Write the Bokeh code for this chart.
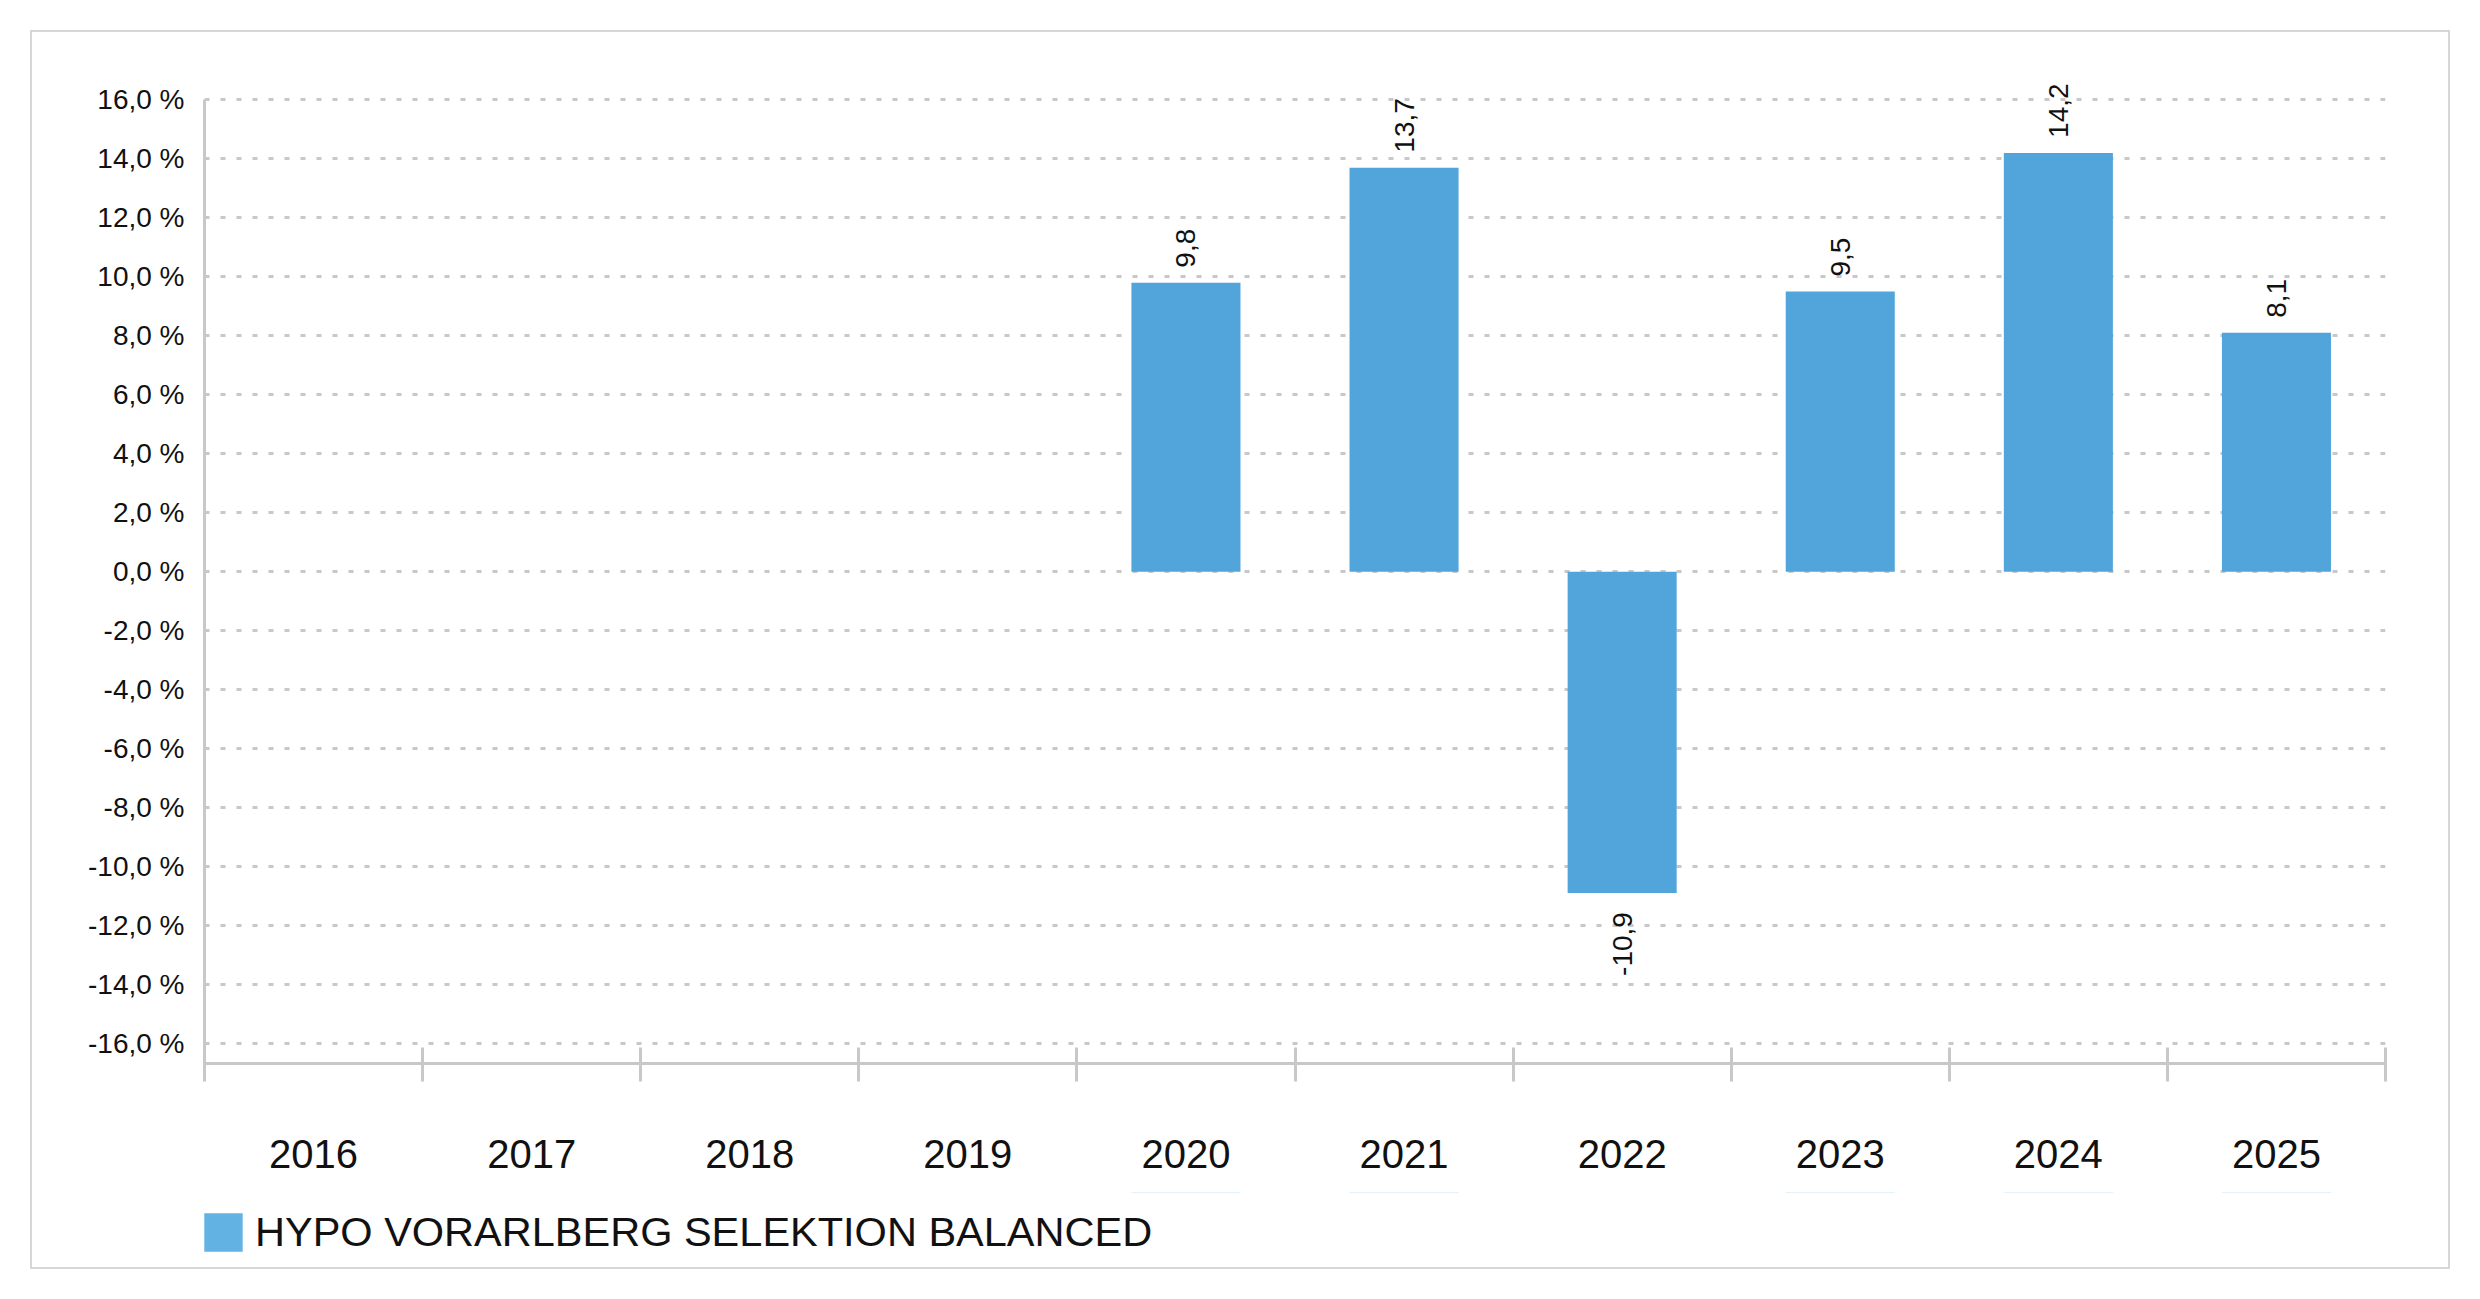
import math
from bokeh.plotting import figure
from bokeh.layouts import column
from bokeh.models import (Range1d, LinearAxis, FixedTicker, ColumnDataSource, Legend, LegendItem,
                          BoxAnnotation)
from bokeh.core.properties import value
from bokeh.embed import file_html
from bokeh.resources import INLINE

years = ["2016", "2017", "2018", "2019", "2020", "2021", "2022", "2023", "2024", "2025"]
returns = [None, None, None, None, 9.8, 13.7, -10.9, 9.5, 14.2, 8.1]
series_name = "HYPO VORARLBERG SELEKTION BALANCED"
y_ticks = list(range(-16, 17, 2))

FONT = "Liberation Sans"
BAR = "#52A5DA"
LEG = "#63B2E4"
GRID = "#C8C8C8"

# category slot i occupies [i, i+1] on the numeric x scale; its centre is i + 0.5
edges = list(range(len(years) + 1))
centres = [i + 0.5 for i in range(len(years))]
bx = [c for c, v in zip(centres, returns) if v is not None]
bv = [v for v in returns if v is not None]
fmt = lambda v: f"{v:.1f}".replace(".", ",")

src = ColumnDataSource(dict(x=bx, top=bv))
pos = ColumnDataSource(dict(x=[x for x, v in zip(bx, bv) if v >= 0],
                            y=[v for v in bv if v >= 0],
                            t=[fmt(v) for v in bv if v >= 0]))
neg = ColumnDataSource(dict(x=[x for x, v in zip(bx, bv) if v < 0],
                            y=[v for v in bv if v < 0],
                            t=[fmt(v) for v in bv if v < 0]))

W = 2416
Y_LO, Y_HI = -16.68, 17.3
p = figure(x_range=Range1d(0, len(years)), y_range=Range1d(Y_LO, Y_HI),
           width=W, height=1160, output_backend="svg", toolbar_location=None,
           x_axis_location=None, min_border_left=172, min_border_right=63,
           min_border_top=29, min_border_bottom=129)
p.outline_line_color = None
p.background_fill_color = "white"
p.border_fill_color = "white"

# y axis
ya = p.yaxis[0]
ya.ticker = FixedTicker(ticks=y_ticks)
ya.bounds = (Y_LO, y_ticks[-1])
ya.major_label_overrides = {t: fmt(t) + " %" for t in y_ticks}
ya.major_label_text_font = FONT
ya.major_label_text_font_size = "28px"
ya.major_label_text_color = "#111111"
ya.major_label_standoff = 14
ya.major_tick_line_color = None
ya.minor_tick_line_color = None
ya.axis_line_color = GRID
ya.axis_line_width = 3

p.ygrid.ticker = FixedTicker(ticks=y_ticks)
p.ygrid.grid_line_color = GRID
p.ygrid.grid_line_width = 3
p.ygrid.grid_line_dash = "5 11"
p.xgrid.visible = False

# x axis: boundary ticks, then a label-only axis with the years at slot centres
ea = LinearAxis(ticker=FixedTicker(ticks=edges),
                major_label_overrides={e: "" for e in edges}, major_label_standoff=0,
                major_tick_in=16, major_tick_out=18, major_tick_line_color=GRID,
                major_tick_line_width=3, minor_tick_line_color=None,
                axis_line_color=GRID, axis_line_width=3)
p.add_layout(ea, "below")
ca = LinearAxis(ticker=FixedTicker(ticks=centres),
                major_label_overrides={c: y for c, y in zip(centres, years)},
                major_tick_line_color=None, minor_tick_line_color=None, axis_line_color=None,
                major_label_text_font=FONT, major_label_text_font_size="40px",
                major_label_text_color="#111111", major_label_standoff=58,
                major_tick_in=0, major_tick_out=0)
p.add_layout(ca, "below")

p.vbar(x="x", top="top", width=0.5, source=src, fill_color=BAR, line_color=None)

p.text(x="x", y="y", text="t", source=pos, angle=math.pi / 2, text_align="left",
       text_baseline="middle", y_offset=-15, text_font=value(FONT),
       text_font_size="28px", text_color="#111111")
p.text(x="x", y="y", text="t", source=neg, angle=math.pi / 2, text_align="right",
       text_baseline="middle", y_offset=19, text_font=value(FONT),
       text_font_size="28px", text_color="#111111")

# legend strip under the chart (its frame is aligned with the chart's frame)
p2 = figure(width=W, height=75, x_range=Range1d(0, len(years)), y_range=Range1d(-0.5, 0.5),
            output_backend="svg", toolbar_location=None, x_axis_location=None,
            y_axis_location=None, min_border=0, min_border_left=0, min_border_right=0,
            min_border_top=0, min_border_bottom=0)
p2.outline_line_color = None
p2.xgrid.visible = False
p2.ygrid.visible = False
# same series as zero-height bars outside this strip's view: only the legend swatch shows
leg_r = p2.vbar(x="x", top="top", bottom="top", width=0.5, source=src,
                fill_color=LEG, line_color=None)
leg_r.level = "underlay"
# white cover over the strip so no edge hairlines of the proxy bars remain
p2.add_layout(BoxAnnotation(fill_color="white", fill_alpha=1.0, line_color=None))
legend = Legend(items=[LegendItem(label=series_name, renderers=[leg_r])],
                location=(-5, 11), orientation="horizontal", padding=0, margin=0,
                spacing=0, glyph_width=48, glyph_height=48, label_height=48,
                label_standoff=8, label_text_font=FONT, label_text_font_size="41.5px",
                label_text_color="#111111", border_line_color=None,
                background_fill_alpha=0)
p2.add_layout(legend)

lay = column(p, p2, spacing=0)
lay.styles = {"margin-left": "30px", "margin-top": "30px", "border": "2px solid #d6d6d6"}

open("out.html", "w").write(file_html(lay, INLINE))
